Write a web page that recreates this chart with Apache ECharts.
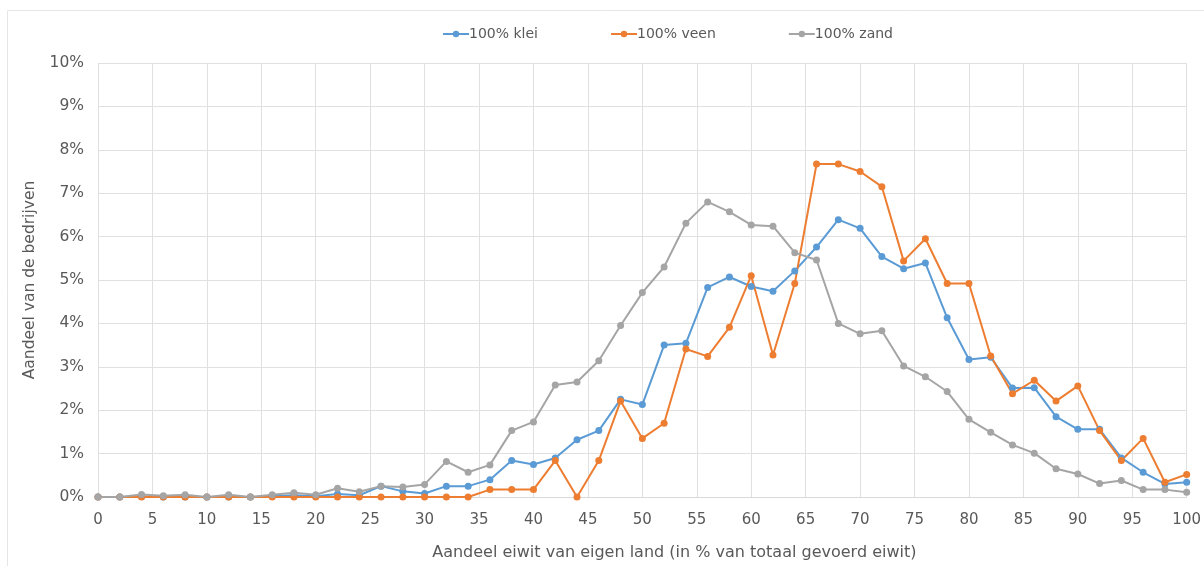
<!DOCTYPE html>
<html>
<head>
    <meta charset="utf-8">
    <title>Eiwit van eigen land</title>
    <script src="https://cdn.jsdelivr.net/npm/echarts@6/dist/echarts.min.js"></script>
    <style>
        html, body { margin: 0; padding: 0; background: #fff; }
    </style>
</head>
<body>
<div id="main" style="width: 1204px;height:566px;"></div>
<script type="text/javascript">
// aandeel eiwit van eigen land (x), stappen van 2
var xs = [0, 2, 4, 6, 8, 10, 12, 14, 16, 18, 20, 22, 24, 26, 28, 30, 32, 34, 36, 38, 40,
          42, 44, 46, 48, 50, 52, 54, 56, 58, 60, 62, 64, 66, 68, 70, 72, 74, 76, 78, 80,
          82, 84, 86, 88, 90, 92, 94, 96, 98, 100];

var klei = [0, 0, 0.01, 0, 0, 0, 0, 0, 0.02, 0.04, 0.02, 0.07, 0.04, 0.25, 0.13, 0.08, 0.25, 0.25, 0.4, 0.84, 0.75,
            0.9, 1.32, 1.53, 2.25, 2.13, 3.5, 3.54, 4.83, 5.07, 4.85, 4.74, 5.21, 5.76, 6.39, 6.19, 5.54, 5.26, 5.39, 4.13, 3.17,
            3.22, 2.51, 2.52, 1.85, 1.56, 1.56, 0.9, 0.57, 0.3, 0.34];

var veen = [0, 0, 0, 0, 0, 0, 0, 0, 0, 0, 0, 0, 0, 0, 0, 0, 0, 0, 0.17, 0.17, 0.17,
            0.84, 0, 0.84, 2.21, 1.35, 1.7, 3.41, 3.24, 3.91, 5.1, 3.27, 4.92, 7.67, 7.67, 7.5, 7.15, 5.44, 5.95, 4.92, 4.92,
            3.25, 2.38, 2.69, 2.21, 2.56, 1.53, 0.84, 1.35, 0.34, 0.52];

var zand = [0, 0, 0.06, 0.03, 0.05, 0, 0.05, 0, 0.05, 0.1, 0.05, 0.2, 0.12, 0.25, 0.23, 0.29, 0.82, 0.57, 0.74, 1.53, 1.73,
            2.58, 2.65, 3.14, 3.95, 4.71, 5.3, 6.31, 6.8, 6.57, 6.27, 6.24, 5.63, 5.46, 4.0, 3.76, 3.83, 3.02, 2.77, 2.43, 1.79,
            1.49, 1.2, 1.01, 0.65, 0.53, 0.31, 0.38, 0.17, 0.17, 0.11];

var names = ['100% klei', '100% veen', '100% zand'];
var colors = ['#5b9bd5', '#ed7d31', '#a5a5a5'];

function pairs(ys) {
    var out = [];
    for (var i = 0; i < xs.length; i++) {
        out.push([xs[i], ys[i]]);
    }
    return out;
}

function lijn(name, ys, color) {
    return {
        name: name,
        type: 'line',
        data: pairs(ys),
        symbol: 'circle',
        symbolSize: 7,
        showSymbol: true,
        lineStyle: { width: 2, color: color },
        itemStyle: { color: color },
        emphasis: { disabled: true },
        animation: false
    };
}

var txt = '#595959';
var font = '"DejaVu Sans", sans-serif';

var myChart = echarts.init(document.getElementById('main'));
var option = {
    textStyle: { fontFamily: font },
    graphic: [{
        type: 'rect',
        shape: { x: 7.5, y: 10.5, width: 1210, height: 570 },
        style: { fill: 'none', stroke: '#e6e6e6', lineWidth: 1 },
        silent: true
    }],
    legend: {
        data: names,
        top: 22,
        left: 437,
        itemGap: 72,
        itemWidth: 26,
        itemHeight: 8,
        textStyle: { color: txt, fontSize: 14, fontFamily: font, padding: [0, 0, 0, -5] }
    },
    grid: {
        left: 98,
        right: 17,
        top: 63,
        bottom: 66,
        containLabel: false
    },
    xAxis: {
        type: 'value',
        min: 0,
        max: 100,
        interval: 5,
        name: 'Aandeel eiwit van eigen land (in % van totaal gevoerd eiwit)',
        nameLocation: 'middle',
        nameGap: 48,
        nameTextStyle: { color: txt, fontSize: 16, fontFamily: font, padding: [0, 0, 0, 64] },
        axisLine: { show: true, lineStyle: { color: '#d9d9d9', width: 1 } },
        axisTick: { show: false },
        axisLabel: { color: txt, fontSize: 15, margin: 16, fontFamily: font },
        splitLine: { show: true, lineStyle: { color: '#e0e0e0', width: 1 } }
    },
    yAxis: {
        type: 'value',
        min: 0,
        max: 10,
        interval: 1,
        name: 'Aandeel van de bedrijven',
        nameLocation: 'middle',
        nameGap: 60,
        nameTextStyle: { color: txt, fontSize: 15.5, fontFamily: font },
        axisLine: { show: false },
        axisTick: { show: false },
        axisLabel: {
            color: txt,
            fontSize: 15.5,
            margin: 14,
            fontFamily: font,
            formatter: function (v) { return v + '%'; }
        },
        splitLine: { show: true, lineStyle: { color: '#e0e0e0', width: 1 } }
    },
    series: [
        lijn(names[0], klei, colors[0]),
        lijn(names[1], veen, colors[1]),
        lijn(names[2], zand, colors[2])
    ]
};
myChart.setOption(option);
</script>
</body>
</html>
